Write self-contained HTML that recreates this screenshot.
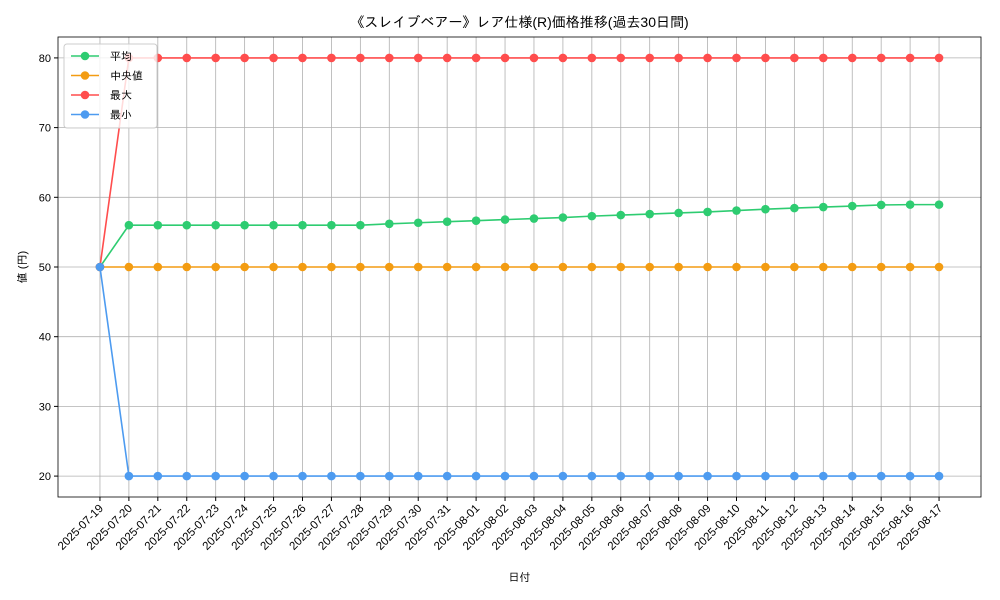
<!DOCTYPE html>
<html><head><meta charset="utf-8"><style>
body{margin:0;background:#fff}
svg{display:block;font-family:"Liberation Sans","IPAGothic","Noto Sans CJK JP",sans-serif}
</style></head><body>
<svg id="c" width="1000" height="600"></svg>
<script>
const categories=["2025-07-19","2025-07-20","2025-07-21","2025-07-22","2025-07-23","2025-07-24","2025-07-25","2025-07-26","2025-07-27","2025-07-28","2025-07-29","2025-07-30","2025-07-31","2025-08-01","2025-08-02","2025-08-03","2025-08-04","2025-08-05","2025-08-06","2025-08-07","2025-08-08","2025-08-09","2025-08-10","2025-08-11","2025-08-12","2025-08-13","2025-08-14","2025-08-15","2025-08-16","2025-08-17"];
const avgValues=[50,56,56,56,56,56,56,56,56,56,56.2,56.35,56.5,56.65,56.8,56.95,57.1,57.3,57.45,57.6,57.75,57.9,58.1,58.3,58.45,58.6,58.75,58.9,58.95,58.95];
const medianValues=[50,50,50,50,50,50,50,50,50,50,50,50,50,50,50,50,50,50,50,50,50,50,50,50,50,50,50,50,50,50];
const maxValues=[50,80,80,80,80,80,80,80,80,80,80,80,80,80,80,80,80,80,80,80,80,80,80,80,80,80,80,80,80,80];
const minValues=[50,20,20,20,20,20,20,20,20,20,20,20,20,20,20,20,20,20,20,20,20,20,20,20,20,20,20,20,20,20];
const yTicks=[20,30,40,50,60,70,80];
const seriesNames=["平均","中央値","最大","最小"];
const seriesColors=["#2ecc71","#f39c12","#ff4d4d","#4d9bf0"];

const svg=document.getElementById('c');
const NS='http://www.w3.org/2000/svg';
const L=58,R=981,T=37,B=497;
const n=categories.length;
const x=i=>L+(i+1.45)/(n-1+2.9)*(R-L);
const y=v=>B-(v-17)/(83-17)*(B-T);
function mk(tag,attrs,parent){const e=document.createElementNS(NS,tag);for(const k in attrs)e.setAttribute(k,attrs[k]);(parent||svg).appendChild(e);return e;}

const grid=mk('g',{});


categories.forEach((c,i)=>{const l=mk('line',{x1:x(i),x2:x(i),y1:T,y2:B,stroke:'#b0b0b0','stroke-width':0.8},grid);

});
yTicks.forEach(v=>{const l=mk('line',{x1:L,x2:R,y1:y(v),y2:y(v),stroke:'#b0b0b0','stroke-width':0.8},grid);

});

const data=[avgValues,medianValues,maxValues,minValues];
data.forEach((vals,s)=>{const g=mk('g',{});


mk('polyline',{points:vals.map((v,i)=>x(i)+','+y(v)).join(' '),fill:'none',stroke:seriesColors[s],'stroke-width':1.6},g);
vals.forEach((v,i)=>{const p=mk('circle',{cx:x(i),cy:y(v),r:4.3,fill:seriesColors[s]},g);

});});

const frame=mk('rect',{x:L,y:T,width:R-L,height:B-T,fill:'none',stroke:'#000','stroke-width':0.8});



yTicks.forEach(v=>{mk('line',{x1:L-4,x2:L,y1:y(v),y2:y(v),stroke:'#000'});
const t=mk('text',{x:L-7,y:y(v)+4,'text-anchor':'end','font-size':11});t.textContent=v;

});
categories.forEach((c,i)=>{mk('line',{x1:x(i),x2:x(i),y1:B,y2:B+4,stroke:'#000'});
const t=mk('text',{x:x(i)+4,y:B+12,'text-anchor':'end','font-size':11.5,transform:`rotate(-45 ${x(i)+4} ${B+12})`});t.textContent=c;

});

const title=mk('text',{x:(L+R)/2,y:27,'text-anchor':'middle','font-size':14});title.textContent='《スレイブベアー》レア仕様(R)価格推移(過去30日間)';


const xt=mk('text',{x:(L+R)/2,y:581,'text-anchor':'middle','font-size':11});xt.textContent='日付';


const yt=mk('text',{x:26,y:(T+B)/2,'text-anchor':'middle','font-size':11,transform:`rotate(-90 26 ${(T+B)/2})`});yt.textContent='値 (円)';



const lg=mk('g',{});


mk('rect',{x:64,y:44,width:93,height:84,rx:3,fill:'#fff','fill-opacity':0.8,stroke:'#ccc'},lg);
seriesNames.forEach((nm,s)=>{const yy=56+s*19.5;
const e=mk('g',{},lg);


mk('line',{x1:71,x2:99,y1:yy,y2:yy,stroke:seriesColors[s],'stroke-width':1.6},e);
mk('circle',{cx:85,cy:yy,r:4.3,fill:seriesColors[s]},e);
const t=mk('text',{x:110,y:yy+4,'font-size':11},e);t.textContent=nm;});
</script>
</body></html>
